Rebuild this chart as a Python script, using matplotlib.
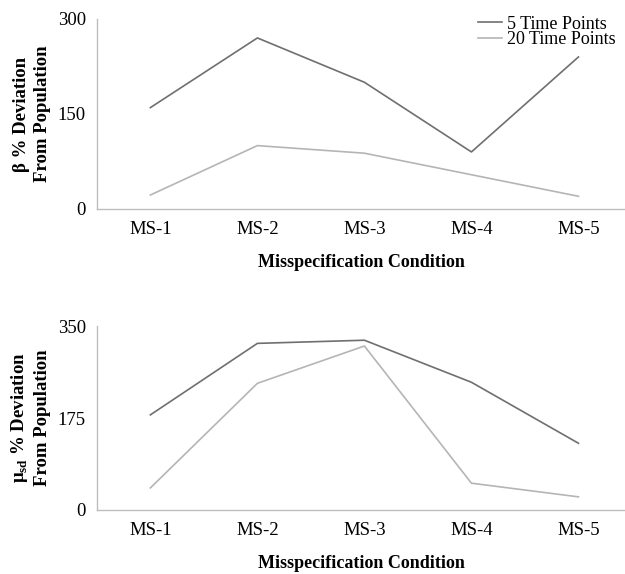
import numpy as np
import matplotlib.pyplot as plt
from matplotlib.lines import Line2D

plt.rcParams["font.family"] = ["Liberation Serif", "DejaVu Serif"]
plt.rcParams["mathtext.fontset"] = "custom"
plt.rcParams["mathtext.rm"] = "Liberation Serif"
plt.rcParams["mathtext.bf"] = "Liberation Serif:bold"

categories = ["MS-1", "MS-2", "MS-3", "MS-4", "MS-5"]
series_names = ["5 Time Points", "20 Time Points"]

beta_5 = [160, 270, 200, 90, 240]
beta_20 = [22, 100, 88, 54, 20]

musd_5 = [181, 317, 323, 243, 127]
musd_20 = [42, 241, 312, 51, 25]

dark = "#6f6f6f"
light = "#b5b5b5"
axis_col = "#bdbdbd"

fig = plt.figure(figsize=(6.25, 5.74), dpi=100)
ax1 = fig.add_axes([0.155, 0.636, 0.845, 0.331])
ax2 = fig.add_axes([0.155, 0.1115, 0.845, 0.3205])

x = np.arange(len(categories))


def style(ax, ymax, ylabel):
    ax.set_xlim(-0.5, 4.435)
    ax.set_ylim(0, ymax)
    ax.set_yticks([0, ymax / 2, ymax])
    ax.set_yticklabels([f"{v:g}" for v in [0, ymax / 2, ymax]])
    ax.set_xticks(x)
    ax.set_xticklabels(categories)
    ax.tick_params(length=0, labelsize=13.5, pad=9)
    ax.tick_params(axis="y", pad=8)
    for s in ["top", "right"]:
        ax.spines[s].set_visible(False)
    for s in ["left", "bottom"]:
        ax.spines[s].set_color(axis_col)
        ax.spines[s].set_linewidth(1.0)
    ax.set_xlabel("Misspecification Condition", fontsize=13,
                  fontweight="bold", labelpad=11)
    ax.set_ylabel(ylabel, fontsize=13.5, fontweight="bold", labelpad=5,
                  linespacing=1.3)


ax1.plot(x, beta_5, color=dark, linewidth=1.2)
ax1.plot(x, beta_20, color=light, linewidth=1.2)
style(ax1, 300, "β % Deviation\nFrom Population")

ax2.plot(x, musd_5, color=dark, linewidth=1.2)
ax2.plot(x, musd_20, color=light, linewidth=1.2)
style(ax2, 350, "μ$_{\\mathbf{sd}}$ % Deviation\nFrom Population")

handles = [Line2D([], [], color=dark, linewidth=1.2),
           Line2D([], [], color=light, linewidth=1.2)]
fig.legend(handles, series_names, loc="upper right",
           bbox_to_anchor=(1.006, 0.995), frameon=False, fontsize=13,
           handlelength=1.35, handletextpad=0.3, labelspacing=-0.08,
           borderpad=0.2)

plt.savefig("out.png", dpi=100)
